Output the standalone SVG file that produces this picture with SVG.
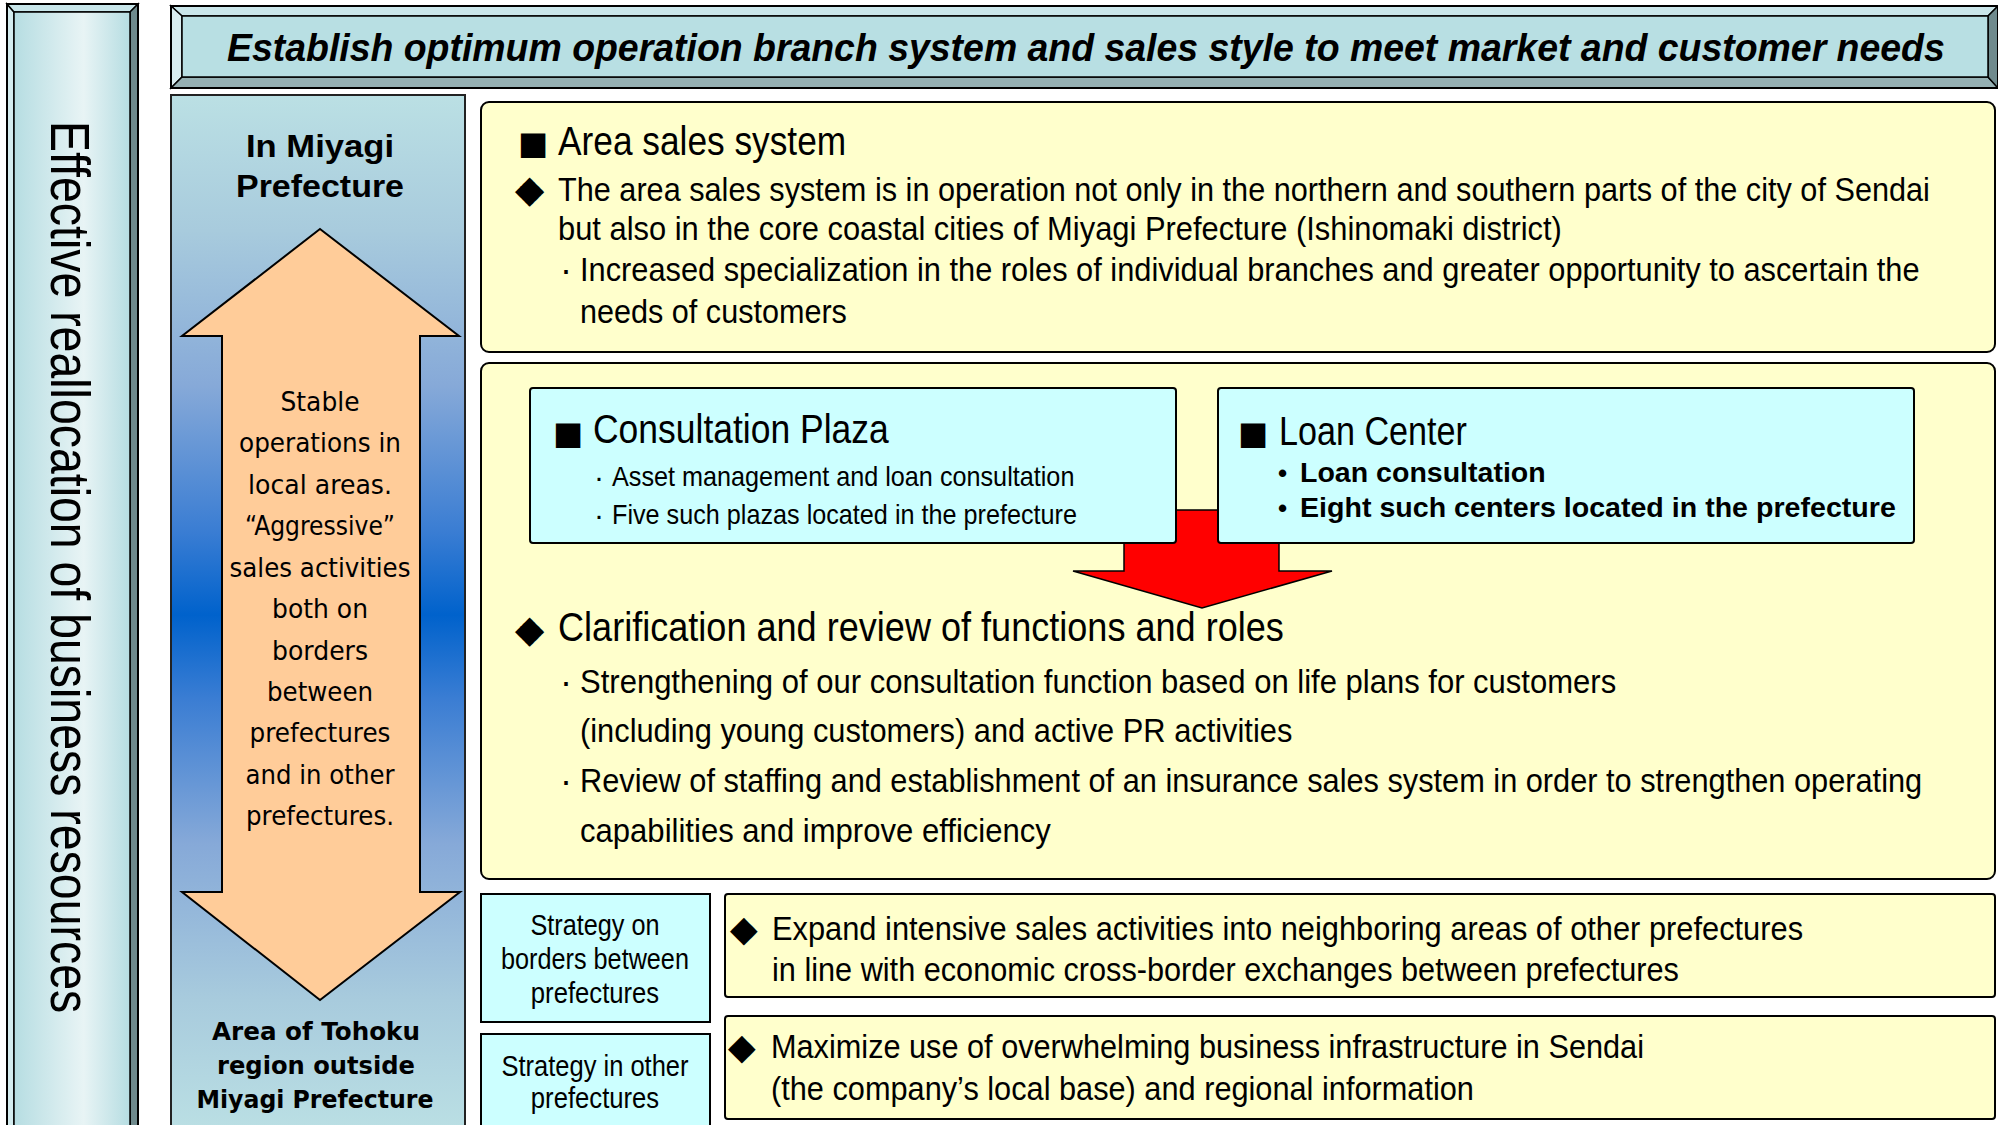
<svg xmlns="http://www.w3.org/2000/svg" width="1998" height="1125" viewBox="0 0 1998 1125">
<defs>
<linearGradient id="gLeft" x1="0" y1="0" x2="1" y2="0">
<stop offset="0" stop-color="#b6dde2"/><stop offset="0.6" stop-color="#e8f4f5"/><stop offset="1" stop-color="#b6dde2"/>
</linearGradient>
<linearGradient id="gMid" x1="0" y1="0" x2="0" y2="1">
<stop offset="0" stop-color="#bbe0e4"/><stop offset="0.13" stop-color="#a8cbdd"/><stop offset="0.28" stop-color="#86a9d8"/><stop offset="0.42" stop-color="#3a7dd3"/><stop offset="0.5" stop-color="#0062cc"/><stop offset="0.58" stop-color="#3a7dd3"/><stop offset="0.72" stop-color="#86a9d8"/><stop offset="0.87" stop-color="#a8cbdd"/><stop offset="1" stop-color="#bbe0e4"/>
</linearGradient>
</defs>
<style>
.n{font-family:"Liberation Sans Narrow","Liberation Sans",Arial,sans-serif;fill:#000}
.b{font-family:"Liberation Sans",Arial,sans-serif;font-weight:bold;fill:#000}
.v{font-family:"DejaVu Sans",Verdana,sans-serif;fill:#000}
.sym{font-family:"DejaVu Sans",sans-serif;fill:#000}
.yel{fill:#ffffcc;stroke:#000;stroke-width:2}
.cy{fill:#ccffff;stroke:#000;stroke-width:2}
.bev{stroke:#000;stroke-width:1.5}
</style>
<rect width="1998" height="1125" fill="#fff"/>

<g id="left-bar">
<rect x="7" y="4" width="131" height="1130" fill="#b9dfe3"/>
<polygon points="7,4 14,12 14,1130 7,1130" fill="#d4ecef" class="bev"/>
<polygon points="7,4 138,4 130,12 14,12" fill="#c8e6ea" class="bev"/>
<polygon points="138,4 138,1130 130,1130 130,12" fill="#6f8a8d" class="bev"/>
<rect x="14" y="12" width="116" height="1120" fill="url(#gLeft)" stroke="#000" stroke-width="1.5"/>
<rect x="7" y="4" width="131" height="1130" fill="none" stroke="#000" stroke-width="2"/>
<text class="n" font-size="56" transform="translate(51,121) rotate(90) scale(0.83,1)" textLength="1075" lengthAdjust="spacingAndGlyphs">Effective reallocation of business resources</text>
</g>

<g id="title-bar">
<polygon points="171,6 1998,6 1988,16 182,16" fill="#cae6ea" class="bev"/>
<polygon points="171,6 182,16 182,77 171,88" fill="#d8edf0" class="bev"/>
<polygon points="171,88 182,77 1988,77 1998,88" fill="#95b0b3" class="bev"/>
<polygon points="1998,6 1998,88 1988,77 1988,16" fill="#6f8a8d" class="bev"/>
<rect x="182" y="16" width="1806" height="61" fill="#b8dfe3" stroke="#000" stroke-width="1.5"/>
<rect x="171" y="6" width="1827" height="82" fill="none" stroke="#000" stroke-width="2"/>
<text class="b" font-style="italic" font-size="39" transform="translate(227,61) scale(0.88,1)" textLength="1952" lengthAdjust="spacingAndGlyphs">Establish optimum operation branch system and sales style to meet market and customer needs</text>
</g>

<g id="region-panel">
<rect x="171" y="95" width="294" height="1040" fill="url(#gMid)" stroke="#222" stroke-width="2"/>
<text class="b" font-size="32" x="320" y="157" text-anchor="middle" textLength="148" lengthAdjust="spacingAndGlyphs">In Miyagi</text>
<text class="b" font-size="32" x="320" y="197" text-anchor="middle" textLength="168" lengthAdjust="spacingAndGlyphs">Prefecture</text>
<polygon points="320,229 459,336 420,336 420,892 460,892 320,1000 182,892 222,892 222,336 182,336" fill="#ffcc99" stroke="#000" stroke-width="2"/>
<g class="v" font-size="27" text-anchor="middle">
<text x="320" y="411" textLength="79" lengthAdjust="spacingAndGlyphs">Stable</text>
<text x="320" y="452" textLength="162" lengthAdjust="spacingAndGlyphs">operations in</text>
<text x="320" y="494" textLength="144" lengthAdjust="spacingAndGlyphs">local areas.</text>
<text x="320" y="535" textLength="150" lengthAdjust="spacingAndGlyphs">“Aggressive”</text>
<text x="320" y="577" textLength="181" lengthAdjust="spacingAndGlyphs">sales activities</text>
<text x="320" y="618" textLength="96" lengthAdjust="spacingAndGlyphs">both on</text>
<text x="320" y="660" textLength="96" lengthAdjust="spacingAndGlyphs">borders</text>
<text x="320" y="701" textLength="106" lengthAdjust="spacingAndGlyphs">between</text>
<text x="320" y="742" textLength="141" lengthAdjust="spacingAndGlyphs">prefectures</text>
<text x="320" y="784" textLength="149" lengthAdjust="spacingAndGlyphs">and in other</text>
<text x="320" y="825" textLength="148" lengthAdjust="spacingAndGlyphs">prefectures.</text>
</g>
<g class="v" font-weight="bold" font-size="25" text-anchor="middle">
<text x="316" y="1040" textLength="208" lengthAdjust="spacingAndGlyphs">Area of Tohoku</text>
<text x="316" y="1074" textLength="198" lengthAdjust="spacingAndGlyphs">region outside</text>
<text x="315" y="1108" textLength="237" lengthAdjust="spacingAndGlyphs">Miyagi Prefecture</text>
</g>
</g>

<g id="area-sales">
<rect class="yel" x="481" y="102" width="1514" height="250" rx="8"/>
<text class="sym" font-size="32" x="518" y="154">■</text>
<text class="n" font-size="40" transform="translate(558,155) scale(0.85,1)" textLength="339" lengthAdjust="spacingAndGlyphs">Area sales system</text>
<text class="sym" font-size="38" x="515" y="202">◆</text>
<text class="n" font-size="34" transform="translate(558,201) scale(0.85,1)" textLength="1614" lengthAdjust="spacingAndGlyphs">The area sales system is in operation not only in the northern and southern parts of the city of Sendai</text>
<text class="n" font-size="34" transform="translate(558,240) scale(0.85,1)" textLength="1181" lengthAdjust="spacingAndGlyphs">but also in the core coastal cities of Miyagi Prefecture (Ishinomaki district)</text>
<text class="n" font-size="36" x="560" y="282">·</text>
<text class="n" font-size="34" transform="translate(580,281) scale(0.85,1)" textLength="1576" lengthAdjust="spacingAndGlyphs">Increased specialization in the roles of individual branches and greater opportunity to ascertain the</text>
<text class="n" font-size="34" transform="translate(580,323) scale(0.85,1)" textLength="314" lengthAdjust="spacingAndGlyphs">needs of customers</text>
</g>

<g id="functions-box">
<rect class="yel" x="481" y="363" width="1514" height="516" rx="8"/>
<text class="sym" font-size="38" x="515" y="642">◆</text>
<text class="n" font-size="40" transform="translate(558,641) scale(0.85,1)" textLength="854" lengthAdjust="spacingAndGlyphs">Clarification and review of functions and roles</text>
<text class="n" font-size="36" x="560" y="694">·</text>
<text class="n" font-size="34" transform="translate(580,693) scale(0.85,1)" textLength="1219" lengthAdjust="spacingAndGlyphs">Strengthening of our consultation function based on life plans for customers</text>
<text class="n" font-size="34" transform="translate(580,742) scale(0.85,1)" textLength="838" lengthAdjust="spacingAndGlyphs">(including young customers) and active PR activities</text>
<text class="n" font-size="36" x="560" y="793">·</text>
<text class="n" font-size="34" transform="translate(580,792) scale(0.85,1)" textLength="1579" lengthAdjust="spacingAndGlyphs">Review of staffing and establishment of an insurance sales system in order to strengthen operating</text>
<text class="n" font-size="34" transform="translate(580,842) scale(0.85,1)" textLength="554" lengthAdjust="spacingAndGlyphs">capabilities and improve efficiency</text>
</g>

<g id="connectors">
<polygon points="1124,510 1279,510 1279,571 1332,571 1202,608 1073,571 1124,571" fill="#ff0000" stroke="#000" stroke-width="1.5"/>
</g>

<g id="consultation-plaza">
<rect class="cy" x="530" y="388" width="646" height="155" rx="3"/>
<text class="sym" font-size="32" x="553" y="444">■</text>
<text class="n" font-size="41" transform="translate(593,443) scale(0.85,1)" textLength="348" lengthAdjust="spacingAndGlyphs">Consultation Plaza</text>
<text class="n" font-size="30" x="594" y="487">·</text>
<text class="n" font-size="28" transform="translate(612,486) scale(0.85,1)" textLength="544" lengthAdjust="spacingAndGlyphs">Asset management and loan consultation</text>
<text class="n" font-size="30" x="594" y="525">·</text>
<text class="n" font-size="28" transform="translate(612,524) scale(0.85,1)" textLength="547" lengthAdjust="spacingAndGlyphs">Five such plazas located in the prefecture</text>
</g>

<g id="loan-center">
<rect class="cy" x="1218" y="388" width="696" height="155" rx="3"/>
<text class="sym" font-size="32" x="1238" y="444">■</text>
<text class="n" font-size="41" transform="translate(1279,445) scale(0.85,1)" textLength="221" lengthAdjust="spacingAndGlyphs">Loan Center</text>
<text class="b" font-size="26" x="1278" y="482">•</text>
<text class="b" font-size="27" transform="translate(1300,482) scale(0.9,1)" textLength="273" lengthAdjust="spacingAndGlyphs">Loan consultation</text>
<text class="b" font-size="26" x="1278" y="517">•</text>
<text class="b" font-size="27" transform="translate(1300,517) scale(0.9,1)" textLength="662" lengthAdjust="spacingAndGlyphs">Eight such centers located in the prefecture</text>
</g>

<g id="strategy-borders">
<rect class="cy" x="481" y="894" width="229" height="128"/>
<g class="n" font-size="29" text-anchor="middle">
<text transform="translate(595,935) scale(0.85,1)" textLength="152" lengthAdjust="spacingAndGlyphs">Strategy on</text>
<text transform="translate(595,969) scale(0.85,1)" textLength="221" lengthAdjust="spacingAndGlyphs">borders between</text>
<text transform="translate(595,1003) scale(0.85,1)" textLength="151" lengthAdjust="spacingAndGlyphs">prefectures</text>
</g>
</g>

<g id="strategy-other">
<rect class="cy" x="481" y="1034" width="229" height="100"/>
<g class="n" font-size="29" text-anchor="middle">
<text transform="translate(595,1076) scale(0.85,1)" textLength="220" lengthAdjust="spacingAndGlyphs">Strategy in other</text>
<text transform="translate(595,1108) scale(0.85,1)" textLength="151" lengthAdjust="spacingAndGlyphs">prefectures</text>
</g>
</g>

<g id="expand-box">
<rect class="yel" x="725" y="894" width="1270" height="103" rx="3"/>
<text class="sym" font-size="36" x="730" y="941">◆</text>
<text class="n" font-size="34" transform="translate(772,940) scale(0.85,1)" textLength="1213" lengthAdjust="spacingAndGlyphs">Expand intensive sales activities into neighboring areas of other prefectures</text>
<text class="n" font-size="34" transform="translate(772,981) scale(0.85,1)" textLength="1067" lengthAdjust="spacingAndGlyphs">in line with economic cross-border exchanges between prefectures</text>
</g>

<g id="maximize-box">
<rect class="yel" x="725" y="1016" width="1270" height="103" rx="3"/>
<text class="sym" font-size="36" x="728" y="1059">◆</text>
<text class="n" font-size="34" transform="translate(771,1058) scale(0.85,1)" textLength="1027" lengthAdjust="spacingAndGlyphs">Maximize use of overwhelming business infrastructure in Sendai</text>
<text class="n" font-size="34" transform="translate(771,1100) scale(0.85,1)" textLength="827" lengthAdjust="spacingAndGlyphs">(the company’s local base) and regional information</text>
</g>
</svg>
